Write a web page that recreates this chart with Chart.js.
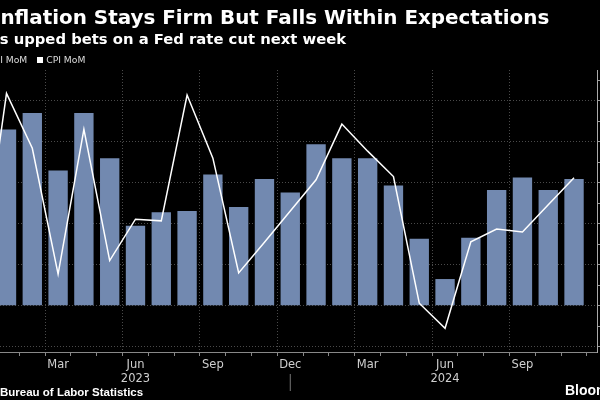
<!DOCTYPE html>
<html>
<head>
<meta charset="utf-8">
<script src="https://cdn.jsdelivr.net/npm/chart.js@4.4.1/dist/chart.umd.min.js"></script>
<style>
  html, body { margin: 0; background: #000; width: 600px; height: 400px; overflow: hidden; }
  #wrap { position: relative; width: 600px; height: 400px; overflow: hidden; }
  .txt { position: absolute; white-space: nowrap; color: #fff; line-height: 1; font-weight: bold; }
  #title { top: 8px; font-size: 19.9px; font-family: "DejaVu Sans", sans-serif; }
  #sub { top: 32px; font-size: 14.8px; font-family: "DejaVu Sans", sans-serif; }
  #legend { top: 55px; font-size: 9.2px; font-family: "DejaVu Sans", sans-serif; font-weight: normal; color: #ddd; }
  .sw { display: inline-block; width: 6px; height: 6px; margin: 0 3px 0 10px; }
  #source { top: 387px; font-size: 11.5px; font-family: "Liberation Sans", sans-serif; }
  #brand { top: 383px; left: 565px; font-size: 14px; font-family: "Liberation Sans", sans-serif; }
  #chart { position: absolute; left: 0; top: 0; }
</style>
</head>
<body>
<div id="wrap">
  <canvas id="chart" width="640" height="400"></canvas>
  <div class="txt" id="title"><span class="cut">I</span>nflation Stays Firm But Falls Within Expectations</div>
  <div class="txt" id="sub"><span class="cut">Trader</span>s upped bets on a Fed rate cut next week</div>
  <div class="txt" id="legend"><span class="cut"><i class="sw" style="background:#7289b0;margin-left:0"></i>Core CP</span>I MoM<i class="sw" style="background:#fff"></i>CPI MoM</div>
  <div class="txt" id="source"><span class="cut">Source: </span>Bureau of Labor Statistics</div>
  <div class="txt" id="brand">Bloomberg</div>
</div>
<script>
const months = [
  "Dec 2022", "Jan 2023", "Feb 2023", "Mar 2023", "Apr 2023", "May 2023",
  "Jun 2023", "Jul 2023", "Aug 2023", "Sep 2023", "Oct 2023", "Nov 2023",
  "Dec 2023", "Jan 2024", "Feb 2024", "Mar 2024", "Apr 2024", "May 2024",
  "Jun 2024", "Jul 2024", "Aug 2024", "Sep 2024", "Oct 2024", "Nov 2024",
];
const coreCpiMoM = [
  0.40, 0.43, 0.47, 0.33, 0.47, 0.36, 0.195, 0.228, 0.231, 0.32, 0.241, 0.309,
  0.276, 0.394, 0.36, 0.36, 0.293, 0.163, 0.065, 0.166, 0.282, 0.313, 0.282, 0.309,
];
const cpiMoM = [
  0.07, 0.518, 0.384, 0.077, 0.43, 0.11, 0.211, 0.207, 0.514, 0.36, 0.08, 0.155,
  0.231, 0.307, 0.443, 0.377, 0.315, 0.006, -0.055, 0.156, 0.187, 0.18, 0.246, 0.312,
];
const yTicks = [-0.1, -0.05, 0, 0.05, 0.1, 0.15, 0.2, 0.25, 0.3, 0.35, 0.4, 0.45, 0.5, 0.55];
const quarterMonths = ["Mar", "Jun", "Sep", "Dec"];

// shift each cut-off text left so the hidden part sits off the page
document.querySelectorAll(".txt").forEach((el) => {
  const cut = el.querySelector(".cut");
  if (cut) el.style.left = -cut.offsetWidth + "px";
});

const isMajor = (v) => Math.abs(Math.round(v * 10) - v * 10) < 1e-6;
const monthOf = (i) => (months[i] || "").split(" ")[0];

const yearDivider = {
  id: "yearDivider",
  afterDraw(chart) {
    const { ctx, scales, chartArea } = chart;
    months.forEach((m, i) => {
      if (!m.startsWith("Dec") || i === 0) return;
      const x = scales.x.getPixelForValue(i);
      ctx.save();
      ctx.strokeStyle = "#777";
      ctx.lineWidth = 1;
      ctx.beginPath();
      ctx.moveTo(x, chartArea.bottom + 22);
      ctx.lineTo(x, chartArea.bottom + 39);
      ctx.stroke();
      ctx.restore();
    });
  },
};

const ctx = document.getElementById("chart").getContext("2d");
new Chart(ctx, {
  data: {
    datasets: [
      {
        type: "line",
        label: "CPI MoM",
        data: cpiMoM.map((v, i) => ({ x: i, y: v })),
        borderColor: "#ffffff",
        borderWidth: 1.5,
        pointRadius: 0,
        tension: 0,
        order: 0,
      },
      {
        type: "bar",
        label: "Core CPI MoM",
        data: coreCpiMoM.map((v, i) => ({ x: i, y: v })),
        backgroundColor: "#7289b0",
        barPercentage: 0.75,
        categoryPercentage: 1,
        order: 1,
      },
    ],
  },
  options: {
    responsive: false,
    animation: false,
    layout: { padding: { top: 70, left: 0, right: 0, bottom: 0 } },
    plugins: { legend: { display: false }, tooltip: { enabled: false } },
    scales: {
      x: {
        type: "linear",
        min: 0.748,
        max: 23.89,
        offset: false,
        afterBuildTicks: (s) => {
          s.ticks = months.map((m, i) => ({ value: i })).filter((t) => t.value >= 1);
        },
        afterFit: (s) => { s.height = 48; },
        grid: {
          color: (c) => quarterMonths.includes(monthOf(c.tick && c.tick.value)) ? "#4a4a4a" : "transparent",
          tickColor: "#888",
          tickLength: 4,
        },
        border: { color: "#888", dash: [1, 2] },
        ticks: {
          autoSkip: false,
          maxRotation: 0,
          padding: 2,
          color: "#cfcfcf",
          font: { family: "DejaVu Sans", size: 11.5 },
          callback: (v) => {
            const [m, y] = (months[v] || "").split(" ");
            if (m === "Jun") return [m, y];
            return quarterMonths.includes(m) ? m : "";
          },
        },
      },
      y: {
        position: "right",
        min: -0.113,
        max: 0.575,
        afterBuildTicks: (s) => { s.ticks = yTicks.map((v) => ({ value: v })); },
        afterFit: (s) => { s.width = 43; },
        grid: {
          color: (c) => (c.tick && isMajor(c.tick.value) ? "#4a4a4a" : "transparent"),
          tickColor: "#999",
          tickLength: 4,
        },
        border: { color: "#aaa", dash: [1, 2] },
        ticks: {
          color: "#cfcfcf",
          font: { family: "DejaVu Sans", size: 11 },
          callback: (v) => (isMajor(v) ? v.toFixed(1) + "%" : ""),
        },
      },
    },
  },
  plugins: [yearDivider],
});
</script>
</body>
</html>
